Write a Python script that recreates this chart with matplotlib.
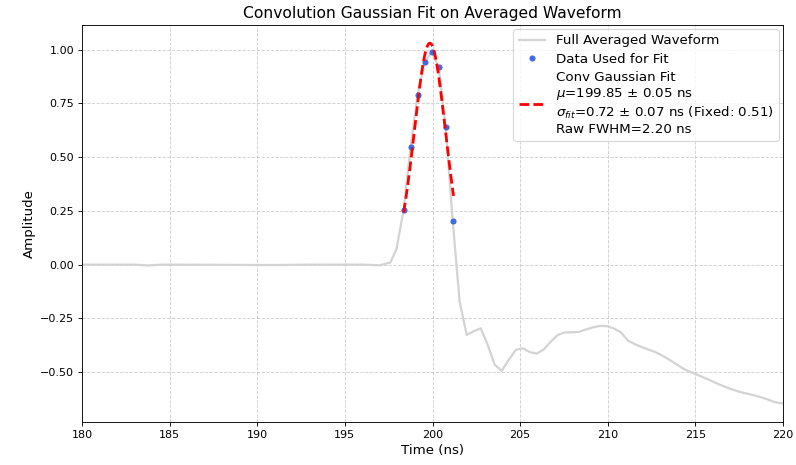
import numpy as np
import matplotlib
matplotlib.use("Agg")
import matplotlib.pyplot as plt

# averaged waveform
t_wave = [180.0, 183.0, 183.8, 184.5, 191.0, 193.0, 196.0, 197.0, 197.6, 197.95,
          198.35, 198.75, 199.15, 199.55, 199.95, 200.35, 200.75, 201.15,
          201.55, 201.95, 202.35, 202.75, 203.15, 203.55, 203.95, 204.35,
          204.75, 205.15, 205.55, 205.95, 206.35, 206.75, 207.15, 207.55,
          207.95, 208.35, 208.75, 209.15, 209.55, 209.95, 210.35, 210.75,
          211.15, 211.55, 211.95, 212.35, 212.75, 213.15, 213.55, 213.95,
          214.35, 214.75, 215.15, 215.55, 215.95, 216.35, 216.75, 217.15,
          217.55, 217.95, 218.35, 218.75, 219.15, 219.55, 219.95, 220.2]
v_wave = [0.0, 0.0, -0.004, 0.0, -0.002, 0.0, 0.0, -0.003, 0.01, 0.074,
          0.255, 0.546, 0.79, 0.94, 0.99, 0.92, 0.642, 0.205,
          -0.173, -0.327, -0.31, -0.296, -0.373, -0.466, -0.494, -0.443,
          -0.397, -0.389, -0.407, -0.414, -0.394, -0.358, -0.327, -0.315,
          -0.315, -0.313, -0.302, -0.292, -0.285, -0.286, -0.297, -0.315,
          -0.353, -0.37, -0.384, -0.396, -0.408, -0.425, -0.444, -0.465,
          -0.486, -0.5, -0.514, -0.528, -0.542, -0.557, -0.57, -0.582,
          -0.592, -0.6, -0.608, -0.617, -0.628, -0.64, -0.645, -0.648]

# points used for the fit
fit_lo, fit_hi = 10, 18

# fit results
amp = 1.03
mu, mu_err = 199.85, 0.05
sigma_fit, sigma_err = 0.72, 0.07
sigma_fixed = 0.51
raw_fwhm = 2.20

t_wave = np.array(t_wave)
v_wave = np.array(v_wave)
t_fit = t_wave[fit_lo:fit_hi]
v_fit = v_wave[fit_lo:fit_hi]

# convolved gaussian = gaussian with combined width
sig_tot = np.sqrt(sigma_fit**2 + sigma_fixed**2)
t_curve = np.linspace(t_fit[0], t_fit[-1] + 0.05, 200)
v_curve = amp * np.exp(-(t_curve - mu)**2 / (2 * sig_tot**2))

fig = plt.figure(figsize=(9.95, 5.8125), dpi=80)
ax = fig.add_axes([0.103, 0.0925, 0.8807, 0.8535])

ax.plot(t_wave, v_wave, color='lightgray', lw=2, label='Full Averaged Waveform')
ax.plot(t_fit, v_fit, 'o', color='royalblue', ms=4.5, label='Data Used for Fit')
fit_label = ('Conv Gaussian Fit\n'
             f'$\\mu$={mu:.2f} ± {mu_err:.2f} ns\n'
             f'$\\sigma_{{fit}}$={sigma_fit:.2f} ± {sigma_err:.2f} ns (Fixed: {sigma_fixed:.2f})\n'
             f'Raw FWHM={raw_fwhm:.2f} ns')
ax.plot(t_curve, v_curve, '--', color='red', lw=2.5, dashes=(3.5, 1.5), label=fit_label)

ax.set_xlim(180, 220)
ax.set_title('Convolution Gaussian Fit on Averaged Waveform', fontsize=14)
ax.set_xlabel('Time (ns)', fontsize=12)
ax.set_ylabel('Amplitude', fontsize=12)
ax.grid(True, linestyle='--', alpha=0.6)
ax.legend(loc='upper right', fontsize=12, handlelength=2.0, labelspacing=0.4,
          borderaxespad=0.3)

fig.savefig('out.png')
